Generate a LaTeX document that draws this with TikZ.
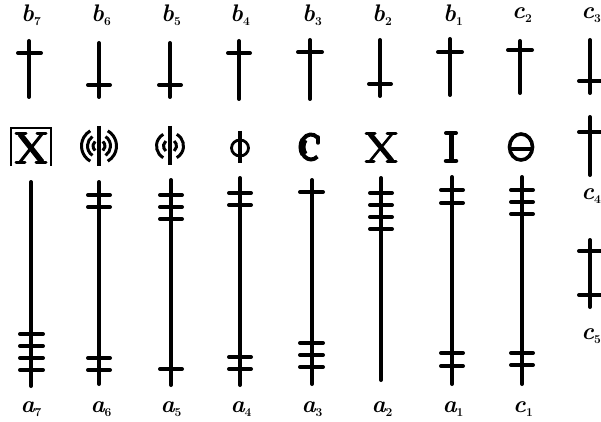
\documentclass[tikz,border=0pt]{standalone}
\usepackage{graphicx}
\newcommand{\lab}[2]{{\bfseries\itshape #1}\raisebox{-4pt}{\fontsize{12}{12}\selectfont\bfseries #2}}

\begin{document}
\begin{tikzpicture}[x=1pt, y=-1pt,
    rod/.style={line width=4pt, line cap=round},
    ring/.style={line width=3pt},
    serif/.style={line width=3pt, line cap=round},
    lab/.style={font=\fontsize{24}{26}\selectfont, inner sep=0pt}]
    \useasboundingbox (0,0) rectangle (601,422);

    % top labels
    \node[lab] (b7) at (31,15) {\lab{b}{7}};
    \node[lab] (b6) at (101,15) {\lab{b}{6}};
    \node[lab] (b5) at (171,15) {\lab{b}{5}};
    \node[lab] (b4) at (240,15) {\lab{b}{4}};
    \node[lab] (b3) at (312,15) {\lab{b}{3}};
    \node[lab] (b2) at (382,15) {\lab{b}{2}};
    \node[lab] (b1) at (453,15) {\lab{b}{1}};
    \node[lab] (c2) at (522,15) {\lab{c}{2}};
    \node[lab] (c3) at (591,15) {\lab{c}{3}};

    % short crosses, bar up or down
    \draw[rod] (29,41) -- (29,97);   \draw[rod] (18,53) -- (41,53);
    \draw[rod] (99,43) -- (99,97);   \draw[rod] (88,85) -- (110,85);
    \draw[rod] (170,43) -- (170,97); \draw[rod] (159,85) -- (181,85);
    \draw[rod] (239,41) -- (239,99); \draw[rod] (228,53) -- (250,53);
    \draw[rod] (310,40) -- (310,99); \draw[rod] (298,52) -- (322,52);
    \draw[rod] (380,40) -- (380,96); \draw[rod] (369,84) -- (391,84);
    \draw[rod] (450,39) -- (450,95); \draw[rod] (438,52) -- (462,52);
    \draw[rod] (520,41) -- (520,93); \draw[rod] (508,50) -- (532,50);
    \draw[rod] (590,40) -- (590,93); \draw[rod] (579,81) -- (601,81);

    % marks in the middle row
    % boxed X
    \draw[line width=2.6pt] (11,166) -- (11,128) -- (51,128) -- (51,166);
    \draw[line width=5.5pt] (20,134) -- (42,162);
    \draw[line width=3pt] (42,134) -- (20,162);
    \draw[serif] (16,134) -- (26,134); \draw[serif] (37,134) -- (46,134);
    \draw[serif] (16,162) -- (25,162); \draw[serif] (36,162) -- (46,162);
    % rings
    \draw[line width=3.4pt] (99,126) -- (99,166);
    \draw[ring] (99,146) ++(120:17.5) arc (120:240:17.5);
    \draw[ring] (99,146) ++(-60:17.5) arc (-60:60:17.5);
    \draw[ring] (99,146) ++(125:11.5) arc (125:235:11.5);
    \draw[ring] (99,146) ++(-55:11.5) arc (-55:55:11.5);
    \draw[ring] (99,146) ++(130:6) arc (130:230:6);
    \draw[ring] (99,146) ++(-50:6) arc (-50:50:6);
    \draw[line width=3.4pt] (170,126) -- (170,165);
    \draw[ring] (170,146) ++(120:13.5) arc (120:240:13.5);
    \draw[ring] (170,146) ++(-60:13.5) arc (-60:60:13.5);
    \draw[ring] (170,146) ++(130:6.5) arc (130:230:6.5);
    \draw[ring] (170,146) ++(-50:6.5) arc (-50:50:6.5);
    % phi
    \draw[line width=3.2pt] (240,131) -- (240,163);
    \draw[line width=2.8pt] (240,148) ellipse (8.5 and 8);
    % C
    \draw[line width=4pt] (311,147) ++(-50:10 and 12.5) arc [start angle=-50, end angle=-310, x radius=10, y radius=12.5];
    \draw[line width=7pt] (311,147) ++(140:9 and 11.5) arc [start angle=140, end angle=220, x radius=9, y radius=11.5];
    \draw[line width=3.5pt, line cap=round] (318,137) -- (318,143);
    % X
    \draw[line width=5pt] (370,134) -- (392,161);
    \draw[line width=2.6pt] (392,134) -- (370,161);
    \draw[serif] (366,134) -- (375,134); \draw[serif] (387,134) -- (396,134);
    \draw[serif] (366,161) -- (374,161); \draw[serif] (387,161) -- (396,161);
    % I
    \draw[line width=5pt] (451,134) -- (451,160);
    \draw[line width=4pt, line cap=round] (446,133) -- (456,133);
    \draw[line width=4.5pt, line cap=round] (446,161) -- (456,161);
    % theta
    \draw[line width=3.6pt] (521,147) ellipse (11.5 and 13);
    \draw[line width=3.2pt] (510,149) -- (532,149);

    % long rods
    \draw[rod] (31,182) -- (31,386);
    \draw[rod] (20,334) -- (43,334); \draw[rod] (20,346) -- (43,346);
    \draw[rod] (20,358) -- (43,358); \draw[rod] (20,370) -- (43,370);

    \draw[rod] (99,182) -- (99,384);
    \draw[rod] (88,195) -- (110,195); \draw[rod] (88,207) -- (110,207);
    \draw[rod] (88,358) -- (110,358); \draw[rod] (88,370) -- (110,370);

    \draw[rod] (171,180) -- (171,385);
    \draw[rod] (160,195) -- (182,195); \draw[rod] (160,207) -- (182,207);
    \draw[rod] (160,219) -- (182,219);
    \draw[rod] (160,369) -- (182,369);

    \draw[rod] (240,178) -- (240,385);
    \draw[rod] (229,193) -- (251,193); \draw[rod] (229,205) -- (251,205);
    \draw[rod] (229,357) -- (251,357); \draw[rod] (229,369) -- (251,369);

    \draw[rod] (312,180) -- (312,384);
    \draw[rod] (300,192) -- (323,192);
    \draw[rod] (300,343) -- (323,343); \draw[rod] (300,355) -- (323,355);
    \draw[rod] (300,367) -- (323,367);

    \draw[rod] (381,178) -- (381,380);
    \draw[rod] (370,193) -- (392,193); \draw[rod] (370,205) -- (392,205);
    \draw[rod] (370,217) -- (392,217); \draw[rod] (370,229) -- (392,229);

    \draw[rod] (452,177) -- (452,384);
    \draw[rod] (441,190) -- (463,190); \draw[rod] (441,203) -- (463,203);
    \draw[rod] (441,353) -- (463,353); \draw[rod] (441,366) -- (463,366);

    \draw[rod] (522,177) -- (522,384);
    \draw[rod] (511,190) -- (533,190); \draw[rod] (511,202) -- (533,202);
    \draw[rod] (511,214) -- (533,214);
    \draw[rod] (511,353) -- (533,353); \draw[rod] (511,365) -- (533,365);

    % right column
    \draw[rod] (590,117) -- (590,175); \draw[rod] (579,132) -- (601,132);
    \node[lab] (c4) at (591,196) {\lab{c}{4}};
    \draw[rod] (590,240) -- (590,307);
    \draw[rod] (579,251) -- (601,251); \draw[rod] (579,295) -- (601,295);
    \node[lab] (c5) at (591,336) {\lab{c}{5}};

    % bottom labels
    \node[lab] (a7) at (31,409) {\lab{a}{7}};
    \node[lab] (a6) at (101,409) {\lab{a}{6}};
    \node[lab] (a5) at (171,409) {\lab{a}{5}};
    \node[lab] (a4) at (241,409) {\lab{a}{4}};
    \node[lab] (a3) at (312,409) {\lab{a}{3}};
    \node[lab] (a2) at (382,409) {\lab{a}{2}};
    \node[lab] (a1) at (453,409) {\lab{a}{1}};
    \node[lab] (c1) at (523,409) {\lab{c}{1}};
\end{tikzpicture}
\end{document}
